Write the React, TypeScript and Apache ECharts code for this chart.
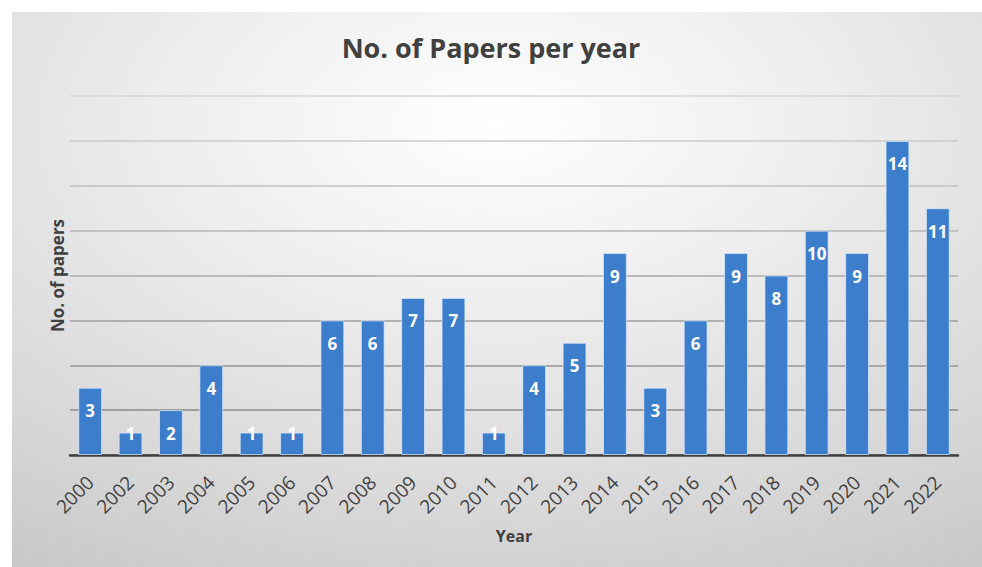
import React, { useEffect, useRef } from "react";
import * as echarts from "echarts";

const years = ["2000","2002","2003","2004","2005","2006","2007","2008","2009","2010","2011","2012","2013","2014","2015","2016","2017","2018","2019","2020","2021","2022"];
const papers = [3,1,2,4,1,1,6,6,7,7,1,4,5,9,3,6,9,8,10,9,14,11];

const TITLE = "No. of Papers per year";
const X_NAME = "Year";
const Y_NAME = "No. of papers";

export default function App() {
  const ref = useRef<HTMLDivElement>(null);
  useEffect(() => {
    if (!ref.current) return;
    const chart = echarts.init(ref.current, undefined, { renderer: "svg" });
    const font = "'Open Sans', 'Noto Sans', sans-serif";
    chart.setOption({
      animation: false,
      textStyle: { fontFamily: font },
      graphic: [
        {
          type: "rect",
          z: -10,
          silent: true,
          shape: { x: 12, y: 12, width: 970, height: 555 },
          style: {
            fill: new echarts.graphic.RadialGradient(0.5, 0.2, 1.0, [
              { offset: 0, color: "#ffffff" },
              { offset: 0.35, color: "#ededed" },
              { offset: 0.7, color: "#d8d8d8" },
              { offset: 1, color: "#c4c4c4" },
            ]),
          },
        },
      ],
      title: {
        text: TITLE,
        left: "center",
        top: 29,
        textStyle: { fontFamily: font, fontSize: 27, fontWeight: "bold", color: "#404040" },
      },
      grid: { left: 70, right: 24, top: 96, bottom: 112 },
      xAxis: {
        type: "category",
        data: years,
        name: X_NAME,
        nameLocation: "middle",
        nameGap: 73,
        nameTextStyle: { fontFamily: font, fontSize: 16, fontWeight: "bold", color: "#404040" },
        axisLine: { lineStyle: { color: "#404040", width: 2.5 } },
        axisTick: { show: false },
        axisLabel: { rotate: 45, fontSize: 19, color: "#404040", margin: 24, fontFamily: font },
      },
      yAxis: {
        type: "value",
        min: 0,
        max: 16,
        interval: 2,
        name: Y_NAME,
        nameLocation: "middle",
        nameGap: 4,
        nameRotate: 90,
        nameTextStyle: { fontFamily: font, fontSize: 17, fontWeight: "bold", color: "#404040" },
        axisLabel: { show: false },
        axisLine: { show: false },
        axisTick: { show: false },
        splitLine: {
          lineStyle: {
            width: 1.5,
            color: new echarts.graphic.LinearGradient(0, 96, 0, 455, [
              { offset: 0, color: "#d6d6d6" },
              { offset: 1, color: "#7f7f7f" },
            ], true),
          },
        },
      },
      series: [
        {
          type: "bar",
          data: papers.map((v) => ({
            value: v,
            label: { position: v <= 1 ? ["50%", 1] : ["50%", 23] },
          })),
          barCategoryGap: "41%",
          itemStyle: { color: "#3c7dcc", borderColor: "rgba(220,235,255,0.7)", borderWidth: 1 },
          label: {
            show: true,
            align: "center",
            verticalAlign: "middle",
            color: "#ffffff",
            fontSize: 17,
            fontWeight: "bold",
            fontFamily: font,
          },
        },
      ],
    });
    return () => chart.dispose();
  }, []);
  return <div ref={ref} style={{ position: "fixed", left: 0, top: 0, width: 982, height: 567, background: "#ffffff" }} />;
}
